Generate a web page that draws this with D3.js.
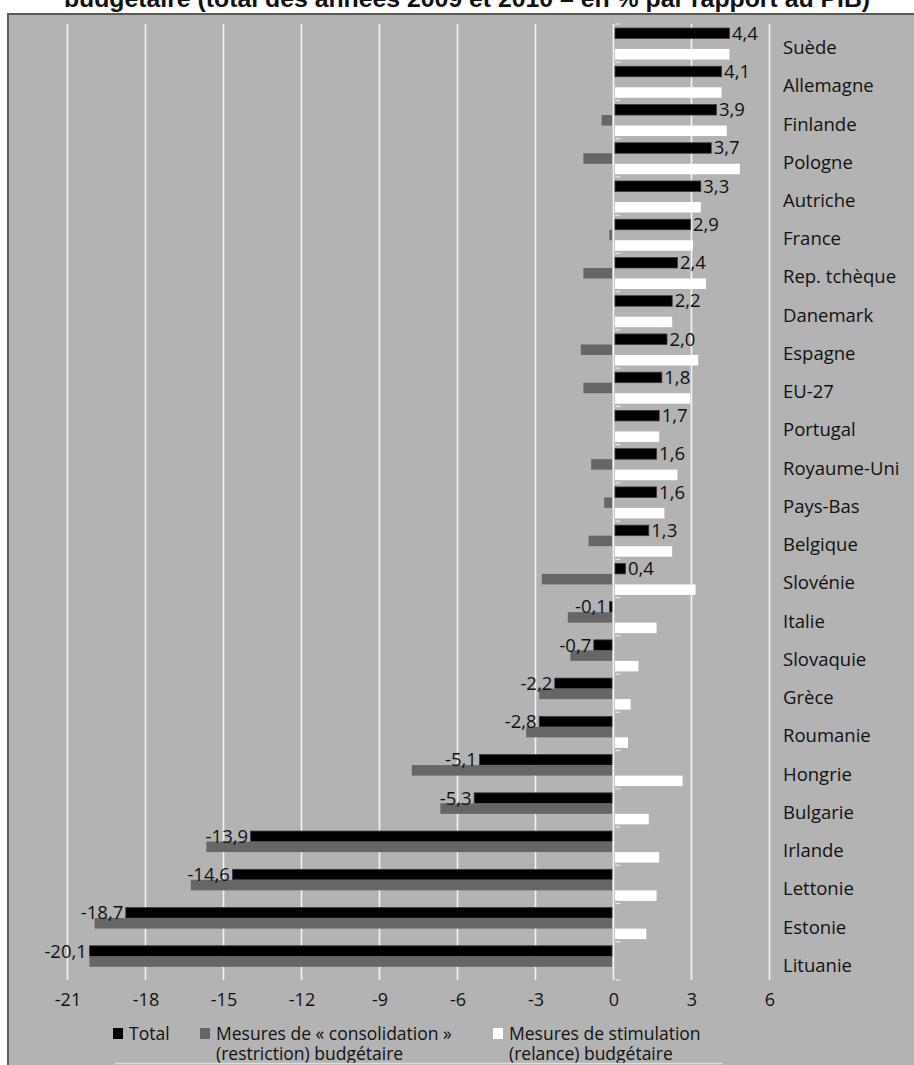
<!DOCTYPE html>
<html>
<head>
<meta charset="utf-8">
<script src="https://cdn.jsdelivr.net/npm/d3@7"></script>
<style>
  body { margin: 0; background: #fff; }
  svg { display: block; }
  text { font-family: "Open Sans", sans-serif; }
</style>
</head>
<body>
<div id="chart-1"></div>
<script>
const countries = ["Suède", "Allemagne", "Finlande", "Pologne", "Autriche", "France", "Rep. tchèque", "Danemark",
    "Espagne", "EU-27", "Portugal", "Royaume-Uni", "Pays-Bas", "Belgique", "Slovénie", "Italie", "Slovaquie",
    "Grèce", "Roumanie", "Hongrie", "Bulgarie", "Irlande", "Lettonie", "Estonie", "Lituanie"];
const total = [4.4, 4.1, 3.9, 3.7, 3.3, 2.9, 2.4, 2.2, 2.0, 1.8, 1.7, 1.6, 1.6, 1.3, 0.4, -0.1, -0.7,
    -2.2, -2.8, -5.1, -5.3, -13.9, -14.6, -18.7, -20.1];
const consolidation = [0, 0, -0.4, -1.1, 0, -0.1, -1.1, 0, -1.2, -1.1, 0, -0.8, -0.3, -0.9, -2.7, -1.7, -1.6,
    -2.8, -3.3, -7.7, -6.6, -15.6, -16.2, -19.9, -20.1];
const stimulation = [4.4, 4.1, 4.3, 4.8, 3.3, 3.0, 3.5, 2.2, 3.2, 2.9, 1.7, 2.4, 1.9, 2.2, 3.1, 1.6, 0.9,
    0.6, 0.5, 2.6, 1.3, 1.7, 1.6, 1.2, 0];
const xTicks = [-21, -18, -15, -12, -9, -6, -3, 0, 3, 6];
const seriesNames = ["Total", "Mesures de « consolidation »", "Mesures de stimulation"];
const seriesNames2 = ["", "(restriction) budgétaire", "(relance) budgétaire"];
const title = "budgétaire (total des années 2009 et 2010 – en % par rapport au PIB)";

const W = 914, H = 1065;
const plot = {top: 24, bottom: 980, left: 67.5, right: 769.5};
const colors = ["#000000", "#666666", "#ffffff"];
const keys = ["total", "consolidation", "stimulation"];

const data = countries.map((c, i) => ({
    country: c,
    total: total[i],
    consolidation: consolidation[i],
    stimulation: stimulation[i]
}));

const svg = d3.select("#chart-1")
    .append("svg")
    .attr("width", W)
    .attr("height", H);

// title (cut off by the top of the picture)
svg.append("text")
    .attr("x", 467)
    .attr("y", 6.5)
    .attr("text-anchor", "middle")
    .style("font-family", "'Liberation Sans', Arial, sans-serif")
    .style("font-weight", "bold")
    .style("font-size", "24.8px")
    .attr("fill", "#111")
    .text(title);

// grey panel
svg.append("rect")
    .attr("x", 8)
    .attr("y", 14)
    .attr("width", W)
    .attr("height", H)
    .attr("fill", "#b3b3b3")
    .attr("stroke", "#5b5b55")
    .attr("stroke-width", 2);

const x = d3.scaleLinear().domain([-21, 6]).range([plot.left, plot.right]);
const y = d3.scaleBand().domain(countries).range([plot.top, plot.bottom]);
const ys = d3.scaleBand().domain(keys).range([0, y.bandwidth()]).paddingOuter(0.32).align(0.6);

// vertical grid lines
svg.append("g")
    .selectAll("line")
    .data(xTicks)
    .join("line")
    .attr("x1", d => x(d))
    .attr("x2", d => x(d))
    .attr("y1", plot.top)
    .attr("y2", plot.bottom)
    .attr("stroke", "#f4f4f4")
    .attr("stroke-width", 1.6);

// small category ticks next to the zero line
svg.append("g")
    .selectAll("line")
    .data(countries.map(c => y(c)).concat([plot.bottom]))
    .join("line")
    .attr("x1", x(0) + 2)
    .attr("x2", x(0) + 7)
    .attr("y1", d => d)
    .attr("y2", d => d)
    .attr("stroke", "#e8e8e8")
    .attr("stroke-width", 1.2);

// bars
const groups = svg.append("g")
    .selectAll("g")
    .data(data)
    .join("g")
    .attr("transform", d => "translate(0," + y(d.country) + ")");

groups.selectAll("rect")
    .data(d => keys.map((k, i) => ({key: k, value: d[k], i: i})))
    .join("rect")
    .attr("x", d => x(Math.min(0, d.value)) + (d.value > 0 ? 1.5 : -1.5))
    .attr("y", d => ys(d.key))
    .attr("width", d => Math.abs(x(d.value) - x(0)))
    .attr("height", ys.bandwidth())
    .attr("fill", d => colors[d.i])
    .attr("stroke", d => d.i === 0 ? "#3a3a3a" : "none")
    .attr("stroke-width", 0.8);

// value labels on the total bars
const fmt = d => d3.format(".1f")(d).replace(".", ",").replace("−", "-");
groups.append("text")
    .attr("x", d => d.total >= 0 ? x(d.total) + 4 : x(d.total) - 4)
    .attr("y", d => ys("total") + ys.bandwidth() / 2)
    .attr("dy", "0.35em")
    .attr("text-anchor", d => d.total >= 0 ? "start" : "end")
    .style("font-size", "18.5px")
    .attr("fill", "#111")
    .text(d => fmt(d.total));

// x axis
const xAxis = d3.axisBottom(x).tickValues(xTicks).tickSize(0).tickPadding(0).tickFormat(d => String(d));
svg.append("g")
    .attr("transform", "translate(0,993)")
    .call(xAxis)
    .call(g => g.select(".domain").remove())
    .selectAll("text")
    .style("font-family", "'Open Sans', sans-serif")
    .style("font-size", "18px")
    .attr("fill", "#111");

// country labels
const yAxis = d3.axisRight(y).tickSize(0).tickPadding(0);
svg.append("g")
    .attr("transform", "translate(783,5)")
    .call(yAxis)
    .call(g => g.select(".domain").remove())
    .selectAll("text")
    .style("font-family", "'Open Sans', sans-serif")
    .style("font-size", "18.5px")
    .attr("fill", "#111");

// legend
const legendX = [113, 200, 493];
const legend = svg.append("g");
seriesNames.forEach((name, i) => {
    legend.append("rect")
        .attr("x", legendX[i])
        .attr("y", 1028)
        .attr("width", 10)
        .attr("height", 11)
        .attr("fill", colors[i]);
    legend.append("text")
        .attr("x", legendX[i] + 16)
        .attr("y", 1040)
        .style("font-size", "17.5px")
        .attr("fill", "#111")
        .text(name);
    if (seriesNames2[i]) {
        legend.append("text")
            .attr("x", legendX[i] + 16)
            .attr("y", 1060)
            .style("font-size", "17.5px")
            .attr("fill", "#111")
            .text(seriesNames2[i]);
    }
});

svg.append("line")
    .attr("x1", 115)
    .attr("x2", 722)
    .attr("y1", 1063.5)
    .attr("y2", 1063.5)
    .attr("stroke", "#dcdcdc")
    .attr("stroke-width", 1.5);
</script>
</body>
</html>
